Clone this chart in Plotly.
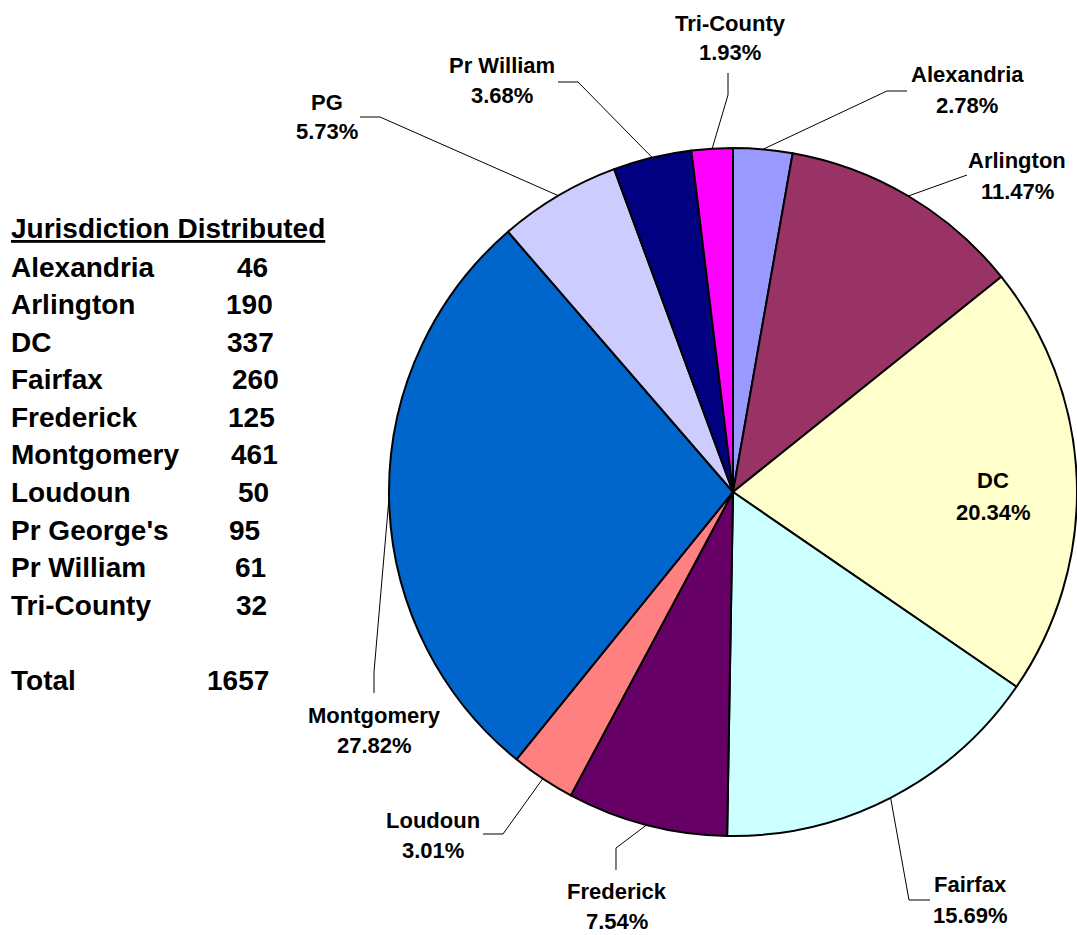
import math
import plotly.graph_objects as go

# ---- data ----
pie_labels = ["Alexandria", "Arlington", "DC", "Fairfax", "Frederick",
              "Loudoun", "Montgomery", "PG", "Pr William", "Tri-County"]
pie_values = [46, 190, 337, 260, 125, 50, 461, 95, 61, 32]
pie_pct_text = ["2.78%", "11.47%", "20.34%", "15.69%", "7.54%",
                "3.01%", "27.82%", "5.73%", "3.68%", "1.93%"]
pie_colors = ["#9999FF", "#993366", "#FFFFCC", "#CCFFFF", "#660066",
              "#FF8080", "#0066CC", "#CCCCFF", "#000080", "#FF00FF"]

table_title = "Jurisdiction Distributed"
table_names = ["Alexandria", "Arlington", "DC", "Fairfax", "Frederick",
               "Montgomery", "Loudoun", "Pr George's", "Pr William", "Tri-County"]
table_counts = [46, 190, 337, 260, 125, 461, 50, 95, 61, 32]
total_label = "Total"
total_value = 1657

# ---- layout constants (pixels) ----
W, H = 1077, 935
CX, CY, R = 733, 492, 344
FONT = "Liberation Sans, Arial, sans-serif"
LBL_SIZE = 22
TBL_SIZE = 28

# label placement: name centre, pct centre y, leader elbow/end points
label_pos = {
    "Alexandria": dict(x=967, yn=75, yp=105, pts=[(887, 91), (907, 91)]),
    "Arlington":  dict(x=1017, yn=161, yp=191, pts=[(967, 175)]),
    "DC":         dict(x=993, yn=481, yp=512, pts=None),
    "Fairfax":    dict(x=970, yn=884, yp=915, pts=[(909, 900), (930, 900)]),
    "Frederick":  dict(x=617, yn=891, yp=921, pts=[(616, 848), (616, 870)]),
    "Loudoun":    dict(x=433, yn=820, yp=850, pts=[(503, 834), (483, 834)]),
    "Montgomery": dict(x=374, yn=715, yp=745, pts=[(374, 672), (374, 693)]),
    "PG":         dict(x=327, yn=102, yp=132, pts=[(380, 117), (360, 117)]),
    "Pr William": dict(x=502, yn=66, yp=96, pts=[(578, 82), (558, 82)]),
    "Tri-County": dict(x=730, yn=23, yp=52, pts=[(728, 95), (728, 73)]),
}
table_num_x = [252, 249, 250, 255, 251, 254, 253, 244, 250, 251]
total_num_x = 238
TBL_X = 9
TBL_TITLE_Y = 229
TBL_ROW0_Y = 267
TBL_ROW_STEP = 37.6


def px(x):
    return x / W


def py(y):
    return 1 - y / H


fig = go.Figure()
fig.add_trace(go.Pie(
    labels=pie_labels,
    values=pie_values,
    sort=False,
    direction="clockwise",
    rotation=0,
    marker=dict(colors=pie_colors, line=dict(color="black", width=2)),
    textinfo="none",
    hoverinfo="skip",
    showlegend=False,
    domain=dict(x=[px(CX - R), px(CX + R)], y=[py(CY + R), py(CY - R)]),
))

annotations = []
shapes = []
total = sum(pie_values)
cum = 0
for name, val, pct in zip(pie_labels, pie_values, pie_pct_text):
    mid = (cum + val / 2) / total * 360.0
    cum += val
    lp = label_pos[name]
    annotations.append(dict(x=px(lp["x"]), y=py(lp["yn"]), xref="paper", yref="paper",
                            text="<b>%s</b>" % name, showarrow=False,
                            xanchor="center", yanchor="middle",
                            font=dict(family=FONT, size=LBL_SIZE, color="black")))
    annotations.append(dict(x=px(lp["x"]), y=py(lp["yp"]), xref="paper", yref="paper",
                            text="<b>%s</b>" % pct, showarrow=False,
                            xanchor="center", yanchor="middle",
                            font=dict(family=FONT, size=LBL_SIZE, color="black")))
    if lp["pts"]:
        sx = CX + R * math.sin(math.radians(mid))
        sy = CY - R * math.cos(math.radians(mid))
        pts = [(sx, sy)] + lp["pts"]
        path = "M %f,%f " % (px(pts[0][0]), py(pts[0][1]))
        path += " ".join("L %f,%f" % (px(a), py(b)) for a, b in pts[1:])
        shapes.append(dict(type="path", xref="paper", yref="paper", path=path,
                           line=dict(color="black", width=1)))

# table
annotations.append(dict(x=px(TBL_X), y=py(TBL_TITLE_Y), xref="paper", yref="paper",
                        text="<b><u>%s</u></b>" % table_title, showarrow=False,
                        xanchor="left", yanchor="middle",
                        font=dict(family=FONT, size=TBL_SIZE, color="black")))
for i, (n, c) in enumerate(zip(table_names, table_counts)):
    yy = TBL_ROW0_Y + TBL_ROW_STEP * i
    annotations.append(dict(x=px(TBL_X), y=py(yy), xref="paper", yref="paper",
                            text="<b>%s</b>" % n, showarrow=False,
                            xanchor="left", yanchor="middle",
                            font=dict(family=FONT, size=TBL_SIZE, color="black")))
    annotations.append(dict(x=px(table_num_x[i]), y=py(yy), xref="paper", yref="paper",
                            text="<b>%d</b>" % c, showarrow=False,
                            xanchor="center", yanchor="middle",
                            font=dict(family=FONT, size=TBL_SIZE, color="black")))
yy = TBL_ROW0_Y + TBL_ROW_STEP * 11
annotations.append(dict(x=px(TBL_X), y=py(yy), xref="paper", yref="paper",
                        text="<b>%s</b>" % total_label, showarrow=False,
                        xanchor="left", yanchor="middle",
                        font=dict(family=FONT, size=TBL_SIZE, color="black")))
annotations.append(dict(x=px(total_num_x), y=py(yy), xref="paper", yref="paper",
                        text="<b>%d</b>" % total_value, showarrow=False,
                        xanchor="center", yanchor="middle",
                        font=dict(family=FONT, size=TBL_SIZE, color="black")))

fig.update_layout(
    width=W, height=H,
    margin=dict(l=0, r=0, t=0, b=0),
    paper_bgcolor="white", plot_bgcolor="white",
    annotations=annotations, shapes=shapes,
    showlegend=False,
)
fig.write_html("out.html",
               config={"displayModeBar": False},
               post_script="document.body.style.margin='0';"
                           "document.body.style.overflow='hidden';")
